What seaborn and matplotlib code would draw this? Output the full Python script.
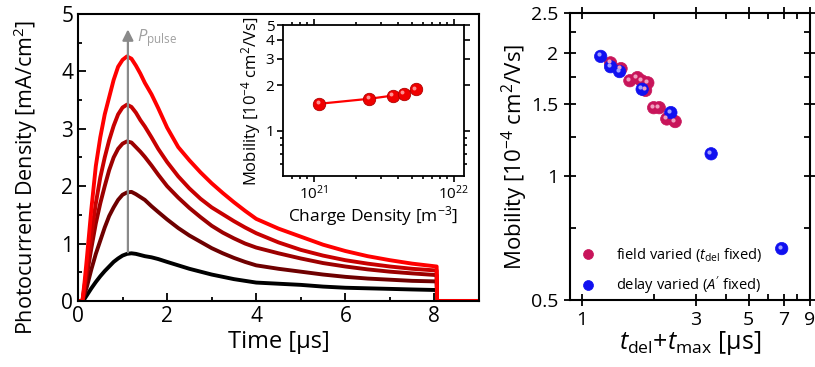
import numpy as np
import pandas as pd
import matplotlib
matplotlib.use("Agg")
import matplotlib.pyplot as plt
import matplotlib.transforms as mtransforms
from matplotlib.ticker import FixedLocator, NullFormatter, FuncFormatter, LogLocator
import seaborn as sns

# ---------------- data ----------------
t_us = [0.0, 0.1, 0.15, 0.2, 0.3, 0.4, 0.5, 0.6, 0.7, 0.8, 0.9, 1.0, 1.1, 1.2, 1.3, 1.4,
        1.5, 1.65, 1.8, 2.0, 2.25, 2.5, 2.75, 3.0, 3.25, 3.5, 3.75, 4.0, 4.5, 5.0, 5.5,
        6.0, 6.5, 7.0, 7.5, 8.05, 8.06, 9.0]
j_black = [0, 0, 0.04, 0.10, 0.22, 0.33, 0.43, 0.52, 0.60, 0.68, 0.74, 0.79, 0.82, 0.83,
           0.82, 0.80, 0.78, 0.76, 0.73, 0.68, 0.62, 0.56, 0.51, 0.46, 0.42, 0.38, 0.35,
           0.32, 0.30, 0.28, 0.25, 0.23, 0.22, 0.21, 0.20, 0.19, 0, 0]
j_p4 = [0, 0, 0.12, 0.25, 0.55, 0.82, 1.05, 1.28, 1.48, 1.63, 1.76, 1.85, 1.89, 1.90,
        1.86, 1.81, 1.76, 1.65, 1.55, 1.42, 1.27, 1.14, 1.03, 0.92, 0.83, 0.75, 0.68,
        0.62, 0.56, 0.51, 0.46, 0.42, 0.39, 0.37, 0.35, 0.34, 0, 0]
j_p3 = [0, 0, 0.22, 0.45, 0.92, 1.35, 1.70, 2.00, 2.28, 2.50, 2.65, 2.74, 2.78, 2.76,
        2.68, 2.60, 2.51, 2.36, 2.20, 2.00, 1.80, 1.62, 1.46, 1.31, 1.19, 1.09, 1.00,
        0.93, 0.83, 0.74, 0.66, 0.60, 0.55, 0.51, 0.48, 0.45, 0, 0]
j_p2 = [0, 0, 0.28, 0.55, 1.15, 1.70, 2.15, 2.50, 2.80, 3.05, 3.25, 3.37, 3.42, 3.38,
        3.28, 3.15, 3.04, 2.85, 2.65, 2.42, 2.17, 1.96, 1.78, 1.63, 1.51, 1.39, 1.28,
        1.18, 1.02, 0.89, 0.79, 0.71, 0.65, 0.60, 0.56, 0.53, 0, 0]
j_p1 = [0, 0, 0.35, 0.75, 1.60, 2.35, 2.85, 3.25, 3.55, 3.85, 4.08, 4.20, 4.26, 4.22,
        4.10, 3.96, 3.80, 3.60, 3.36, 3.02, 2.68, 2.45, 2.24, 2.05, 1.88, 1.72, 1.57,
        1.43, 1.26, 1.12, 0.98, 0.87, 0.78, 0.71, 0.65, 0.60, 0, 0]
curve_names = ["c5", "c4", "c3", "c2", "c1"]
curve_colors = ["#000000", "#6e0000", "#9c0000", "#c80000", "#ff0000"]

# inset: mobility vs charge density
charge_density = [1.1e21, 2.5e21, 3.66e21, 4.4e21, 5.35e21]
mobility_inset = [1.51, 1.63, 1.71, 1.76, 1.88]

# right panel: mobility vs t_del + t_max
field_t = [1.32, 1.46, 1.59, 1.71, 1.78, 1.89, 1.85, 2.00, 2.11, 2.27, 2.46]
field_mu = [1.89, 1.83, 1.71, 1.74, 1.71, 1.69, 1.62, 1.47, 1.47, 1.38, 1.36]
delay_t = [1.20, 1.32, 1.44, 1.79, 2.36, 3.48, 6.87]
delay_mu = [1.96, 1.85, 1.80, 1.63, 1.43, 1.135, 0.667]
label_field = r"field varied ($t_{\mathrm{del}}$ fixed)"
label_delay = r"delay varied ($A'$ fixed)"

# ---------------- style ----------------
sns.set_theme(style="ticks")
plt.rcParams["font.family"] = ["Open Sans", "DejaVu Sans"]
plt.rcParams["mathtext.fontset"] = "custom"
plt.rcParams["mathtext.rm"] = "Open Sans"
plt.rcParams["mathtext.it"] = "Open Sans:italic"
plt.rcParams["mathtext.bf"] = "Open Sans:bold"
plt.rcParams["axes.linewidth"] = 1.5
plt.rcParams["axes.edgecolor"] = "black"
plt.rcParams["text.color"] = "black"
plt.rcParams["axes.labelcolor"] = "black"
plt.rcParams["xtick.color"] = "black"
plt.rcParams["ytick.color"] = "black"

fig = plt.figure(figsize=(8.15, 3.67), dpi=100)
ax = fig.add_axes([0.0957, 0.180, 0.492, 0.782])
axin = fig.add_axes([0.347, 0.520, 0.222, 0.411])
ax2 = fig.add_axes([0.699, 0.1826, 0.2945, 0.782])

# ---------------- main panel ----------------
rows = []
for name, vals in zip(curve_names, [j_black, j_p4, j_p3, j_p2, j_p1]):
    for tt, vv in zip(t_us, vals):
        rows.append({"t": tt, "j": vv, "curve": name})
df = pd.DataFrame(rows)
sns.lineplot(data=df, x="t", y="j", hue="curve", hue_order=curve_names,
             palette=dict(zip(curve_names, curve_colors)), legend=False,
             estimator=None, sort=False, linewidth=2.8, ax=ax)
ax.set_xlim(0, 9)
ax.set_ylim(0, 5)
ax.xaxis.set_major_locator(FixedLocator([0, 2, 4, 6, 8]))
ax.xaxis.set_minor_locator(FixedLocator([1, 3, 5, 7, 9]))
ax.yaxis.set_major_locator(FixedLocator([0, 1, 2, 3, 4, 5]))
ax.yaxis.set_minor_locator(FixedLocator([0.5, 1.5, 2.5, 3.5, 4.5]))
ax.tick_params(which="both", direction="in", labelsize=15, width=1.3)
ax.tick_params(which="major", length=6)
ax.tick_params(which="minor", length=3)
ax.set_xlabel("Time [µs]", fontsize=17, labelpad=2)
ax.set_ylabel(r"Photocurrent Density [mA/cm$^{2}$]", fontsize=15.5)
ax.yaxis.set_label_coords(-0.095, 0.43)

ax.annotate("", xy=(1.12, 4.78), xytext=(1.12, 0.80),
            arrowprops=dict(arrowstyle="-|>", color="#8a8a8a", lw=1.6, mutation_scale=16))
ax.text(1.32, 4.52, r"$P_{\mathrm{pulse}}$", color="#a0a0a0", fontsize=12)

# ---------------- inset ----------------
sns.lineplot(x=charge_density, y=mobility_inset, color="#ff0000", linewidth=1.6,
             estimator=None, ax=axin)
sns.scatterplot(x=charge_density, y=mobility_inset, color="#f00000", s=80,
                edgecolor="#b00000", linewidth=0.6, ax=axin, zorder=3)
hl_in = mtransforms.offset_copy(axin.transData, fig=fig, x=-1.3, y=1.3, units="points")
axin.scatter(charge_density, mobility_inset, s=8, color="#ff9090", linewidths=0,
             transform=hl_in, zorder=4)
axin.set_xscale("log")
axin.set_yscale("log")
axin.set_xlim(10 ** 20.78, 10 ** 22.07)
axin.set_ylim(0.5, 5)
axin.yaxis.set_major_locator(FixedLocator([1, 2, 3, 4, 5]))
axin.yaxis.set_major_formatter(FuncFormatter(lambda v, p: f"{v:g}"))
axin.yaxis.set_minor_locator(FixedLocator([0.6, 0.7, 0.8, 0.9]))
axin.yaxis.set_minor_formatter(NullFormatter())
axin.xaxis.set_major_locator(FixedLocator([1e21, 1e22]))
axin.xaxis.set_minor_locator(LogLocator(base=10, subs=np.arange(2, 10)))
axin.xaxis.set_minor_formatter(NullFormatter())
axin.tick_params(which="both", direction="out", labelsize=11, width=1.2,
                 top=True, right=True, pad=2)
axin.tick_params(which="major", length=4)
axin.tick_params(which="minor", length=2)
axin.set_xlabel(r"Charge Density [m$^{-3}$]", fontsize=12.5, labelpad=1)
axin.set_ylabel(r"Mobility [10$^{-4}$ cm$^{2}$/Vs]", fontsize=12, labelpad=2)
for sp in axin.spines.values():
    sp.set_linewidth(1.3)

# ---------------- right panel ----------------
rdf = pd.DataFrame({
    "t": field_t + delay_t,
    "mu": field_mu + delay_mu,
    "series": [label_field] * len(field_t) + [label_delay] * len(delay_t),
})
pal = {label_field: "#c8145a", label_delay: "#1010f0"}
sns.scatterplot(data=rdf, x="t", y="mu", hue="series", palette=pal, s=80,
                edgecolor="face", linewidth=0.5, ax=ax2, zorder=3)
hl = mtransforms.offset_copy(ax2.transData, fig=fig, x=-1.4, y=1.4, units="points")
ax2.scatter(field_t, field_mu, s=9, color="#f0a0c0", linewidths=0, transform=hl, zorder=4)
ax2.scatter(delay_t, delay_mu, s=9, color="#a0a0ff", linewidths=0, transform=hl, zorder=4)
ax2.set_xscale("log")
ax2.set_yscale("log")
ax2.set_xlim(0.89, 9.0)
ax2.set_ylim(0.5, 2.5)
ax2.xaxis.set_major_locator(FixedLocator([1, 3, 5, 7, 9]))
ax2.xaxis.set_major_formatter(FuncFormatter(lambda v, p: f"{v:g}"))
ax2.xaxis.set_minor_locator(FixedLocator([2, 4, 6, 8]))
ax2.xaxis.set_minor_formatter(NullFormatter())
ax2.yaxis.set_major_locator(FixedLocator([0.5, 1, 1.5, 2, 2.5]))
ax2.yaxis.set_major_formatter(FuncFormatter(lambda v, p: f"{v:g}"))
ax2.yaxis.set_minor_locator(FixedLocator([0.75, 1.25, 1.75, 2.25]))
ax2.yaxis.set_minor_formatter(NullFormatter())
ax2.tick_params(which="both", direction="in", labelsize=14, width=1.3,
                top=True, right=True)
ax2.tick_params(which="major", direction="inout", length=9)
ax2.tick_params(which="minor", length=4)
ax2.set_xlabel(r"$t_{\mathrm{del}}$+$t_{\mathrm{max}}$ [µs]", fontsize=18, labelpad=0)
ax2.set_ylabel(r"Mobility [10$^{-4}$ cm$^{2}$/Vs]", fontsize=16, labelpad=1)
leg = ax2.legend(loc="lower left", bbox_to_anchor=(-0.04, -0.035), frameon=False,
                 fontsize=10.5, handletextpad=0.9, markerscale=0.8, labelspacing=0.7,
                 title=None)
for sp in ax2.spines.values():
    sp.set_linewidth(1.5)

fig.savefig("out.png", dpi=100)
